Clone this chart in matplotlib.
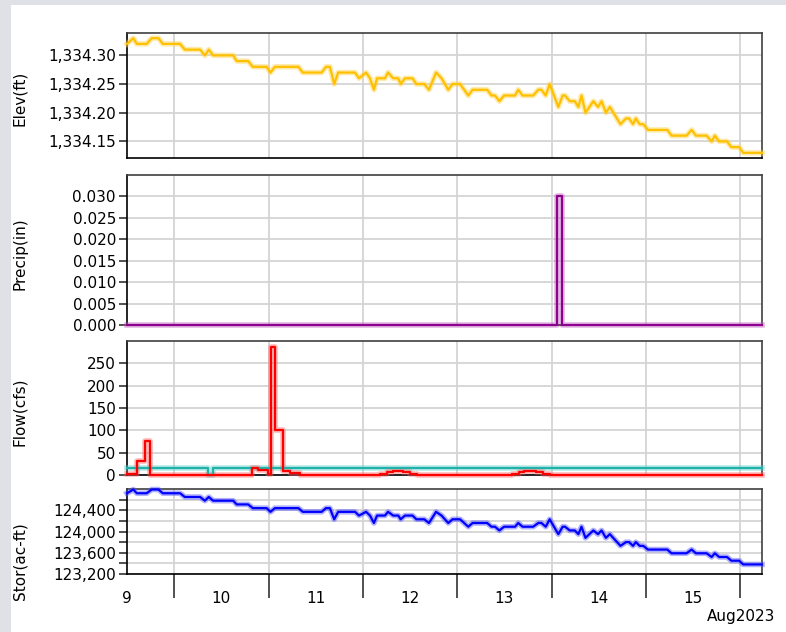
import numpy as np
import pandas as pd
import matplotlib
matplotlib.use("Agg")
import matplotlib.pyplot as plt
import matplotlib.dates as mdates
from matplotlib.ticker import FixedLocator, FuncFormatter, NullFormatter
from matplotlib.patches import Rectangle

plt.rcParams['font.family'] = 'DejaVu Sans'
plt.rcParams['font.size'] = 11

# ------------------- DATA ------------------- #
start = pd.Timestamp("2023-08-09 12:00")
end_hours = 161.5  # right edge of the plot, hours after start

# reservoir elevation / storage (hours after start)
lake_hours = [0.0, 1.6, 2.5, 5.0, 6.3, 8.0, 9.1, 13.5, 14.7, 18.6,
              19.8, 20.8, 21.9, 27.0, 27.9, 30.8, 32.0, 35.5, 36.5, 37.6,
              43.6, 44.7, 49.5, 50.6, 51.6, 52.7, 53.7, 58.0, 59.0, 60.8,
              61.8, 62.8, 63.6, 65.6, 66.4, 67.7, 69.0, 69.6, 70.7, 72.6,
              73.6, 75.6, 76.8, 78.6, 80.0, 81.7, 82.8, 84.7, 86.8, 87.9,
              91.6, 92.7, 93.6, 94.7, 95.9, 98.7, 99.5, 100.6, 103.3, 104.6,
              105.4, 106.5, 107.5, 109.7, 110.8, 111.4, 112.6, 113.9, 114.8, 115.6,
              116.6, 118.6, 119.8, 120.7, 121.8, 122.8, 125.5, 126.9, 127.7, 128.7,
              129.4, 130.4, 131.3, 132.5, 137.4, 138.5, 142.3, 143.6, 144.7, 147.4,
              148.7, 149.5, 150.6, 152.6, 153.7, 155.7, 156.7, 161.5]

elev_ft = [1334.32, 1334.33, 1334.32, 1334.32, 1334.33, 1334.33, 1334.32, 1334.32, 1334.31, 1334.31,
           1334.30, 1334.31, 1334.30, 1334.30, 1334.29, 1334.29, 1334.28, 1334.28, 1334.27, 1334.28,
           1334.28, 1334.27, 1334.27, 1334.28, 1334.28, 1334.25, 1334.27, 1334.27, 1334.26, 1334.27,
           1334.26, 1334.24, 1334.26, 1334.26, 1334.27, 1334.26, 1334.26, 1334.25, 1334.26, 1334.26,
           1334.25, 1334.25, 1334.24, 1334.27, 1334.26, 1334.24, 1334.25, 1334.25, 1334.23, 1334.24,
           1334.24, 1334.23, 1334.23, 1334.22, 1334.23, 1334.23, 1334.24, 1334.23, 1334.23, 1334.24,
           1334.24, 1334.23, 1334.25, 1334.21, 1334.23, 1334.23, 1334.22, 1334.22, 1334.21, 1334.23,
           1334.20, 1334.22, 1334.21, 1334.22, 1334.20, 1334.21, 1334.18, 1334.19, 1334.19, 1334.18,
           1334.19, 1334.18, 1334.18, 1334.17, 1334.17, 1334.16, 1334.16, 1334.17, 1334.16, 1334.16,
           1334.15, 1334.16, 1334.15, 1334.15, 1334.14, 1334.14, 1334.13, 1334.13]

stor_acft = [124720, 124790, 124720, 124720, 124790, 124790, 124720, 124720, 124650, 124650,
             124580, 124650, 124580, 124580, 124510, 124510, 124440, 124440, 124370, 124440,
             124440, 124370, 124370, 124440, 124440, 124230, 124370, 124370, 124300, 124370,
             124300, 124160, 124300, 124300, 124370, 124300, 124300, 124230, 124300, 124300,
             124230, 124230, 124160, 124370, 124300, 124160, 124230, 124230, 124090, 124160,
             124160, 124090, 124090, 124020, 124090, 124090, 124160, 124090, 124090, 124160,
             124160, 124090, 124230, 123950, 124090, 124090, 124020, 124020, 123950, 124090,
             123880, 124020, 123950, 124020, 123880, 123950, 123730, 123800, 123800, 123730,
             123800, 123730, 123730, 123660, 123660, 123590, 123590, 123660, 123590, 123590,
             123520, 123590, 123520, 123520, 123450, 123450, 123380, 123380]

# precipitation (step values, hours after start)
precip_hours = [0.0, 109.4, 110.6, 161.5]
precip_in = [0.0, 0.030, 0.0, 0.0]

# outflow (red) and inflow (teal), step values
out_hours = [0.0, 2.5, 4.6, 5.8, 31.7, 33.4, 35.9, 36.5, 37.6, 39.6, 41.4, 44.0,
             64.3, 66.0, 67.7, 70.2, 72.0, 73.7, 98.0, 99.7, 101.0, 104.0, 105.7, 107.5, 161.5]
out_cfs = [2, 32, 77, 0, 15, 11, 3, 287, 100, 10, 5, 0,
           3, 6, 9, 6, 3, 0, 3, 6, 9, 6, 3, 0, 0]

in_hours = [0.0, 20.7, 21.8, 161.5]
in_cfs = [15, 0, 15, 15]


def to_time(hours):
    return start + pd.to_timedelta(np.array(hours), unit='h')


def draw(ax, hours, vals, color, halo, step=False):
    kw = {'drawstyle': 'steps-post'} if step else {}
    t = to_time(hours)
    ax.plot(t, vals, color=halo, lw=4.0, alpha=0.45, clip_on=False, zorder=3, **kw)
    ax.plot(t, vals, color=color, lw=1.6, clip_on=False, zorder=4, **kw)


# ------------------ FIGURE ------------------- #
W, H = 786, 632
fig = plt.figure(figsize=(W / 100, H / 100), dpi=100)
fig.patch.set_facecolor('#dfe1e6')
fig.add_artist(Rectangle((11 / W, 0), 1, 1 - 5 / H, transform=fig.transFigure,
                         facecolor='white', edgecolor='none', zorder=-10))


def make_ax(top_px, bottom_px, sharex=None):
    return fig.add_axes([127 / W, 1 - bottom_px / H, 635 / W, (bottom_px - top_px) / H],
                        sharex=sharex)


ax1 = make_ax(33, 158)
ax2 = make_ax(175, 325, ax1)
ax3 = make_ax(341, 475, ax1)
ax4 = make_ax(489, 574, ax1)

draw(ax1, lake_hours, elev_ft, '#ffc000', '#ffd24d')
draw(ax2, precip_hours, precip_in, '#8e008e', '#c060c0', step=True)
draw(ax3, in_hours, in_cfs, '#20b2aa', '#60d0c8', step=True)
draw(ax3, out_hours, out_cfs, '#ff0000', '#ff6060', step=True)
draw(ax4, lake_hours, stor_acft, '#0000ff', '#5050ff')

ax1.set_ylim(1334.121, 1334.339)
ax1.yaxis.set_major_locator(FixedLocator([1334.15, 1334.20, 1334.25, 1334.30]))
ax1.yaxis.set_major_formatter(FuncFormatter(lambda v, p: f"{v:,.2f}"))

ax2.set_ylim(0, 0.035)
ax2.yaxis.set_major_locator(FixedLocator([0, 0.005, 0.010, 0.015, 0.020, 0.025, 0.030]))
ax2.yaxis.set_major_formatter(FuncFormatter(lambda v, p: f"{v:.3f}"))

ax3.set_ylim(0, 300)
ax3.yaxis.set_major_locator(FixedLocator([0, 50, 100, 150, 200, 250]))
ax3.yaxis.set_major_formatter(FuncFormatter(lambda v, p: f"{v:.0f}"))

ax4.set_ylim(123200, 124800)
ax4.yaxis.set_major_locator(FixedLocator([123200, 123600, 124000, 124400]))
ax4.yaxis.set_minor_locator(FixedLocator([123400, 123800, 124200, 124600]))
ax4.yaxis.set_major_formatter(FuncFormatter(lambda v, p: f"{v:,.0f}"))

ax4.set_xlim(start, start + pd.Timedelta(hours=end_hours))
ax4.xaxis.set_major_locator(mdates.DayLocator())
ax4.xaxis.set_minor_locator(mdates.HourLocator(byhour=[12]))
ax4.xaxis.set_major_formatter(NullFormatter())
ax4.xaxis.set_minor_formatter(FuncFormatter(lambda x, p: str(mdates.num2date(x).day)))

for ax in (ax1, ax2, ax3, ax4):
    ax.set_facecolor('none')
    ax.xaxis.grid(True, which='major', color='#d4d4d4', lw=1.3)
    ax.yaxis.grid(True, which='both', color='#d4d4d4', lw=1.3)
    ax.set_axisbelow(True)
    ax.spines['top'].set_color('#404040')
    ax.spines['right'].set_color('#404040')
    ax.spines['left'].set_color('black')
    ax.spines['bottom'].set_color('black')
    for s in ax.spines.values():
        s.set_linewidth(1.2)
    ax.tick_params(axis='y', which='both', length=6, width=1.1, pad=2, color='#222')
    ax.tick_params(axis='y', labelsize=11)

for ax in (ax1, ax2, ax3):
    ax.tick_params(axis='x', which='both', length=0, labelbottom=False)

ax4.tick_params(axis='x', which='major', length=17, width=1.2, color='#333')
ax4.tick_params(axis='x', which='minor', length=0, pad=12, labelsize=11)

# axis titles
labels = [("Elev(ft)", 98), ("Precip(in)", 254), ("Flow(cfs)", 412), ("Stor(ac-ft)", 561)]
for text, yc in labels:
    fig.text(20 / W, 1 - yc / H, text, rotation=90, ha='center', va='center', fontsize=11)

fig.text(775 / W, 1 - 621 / H, "Aug2023", ha='right', va='baseline', fontsize=11)

fig.savefig("out.png", dpi=100)
